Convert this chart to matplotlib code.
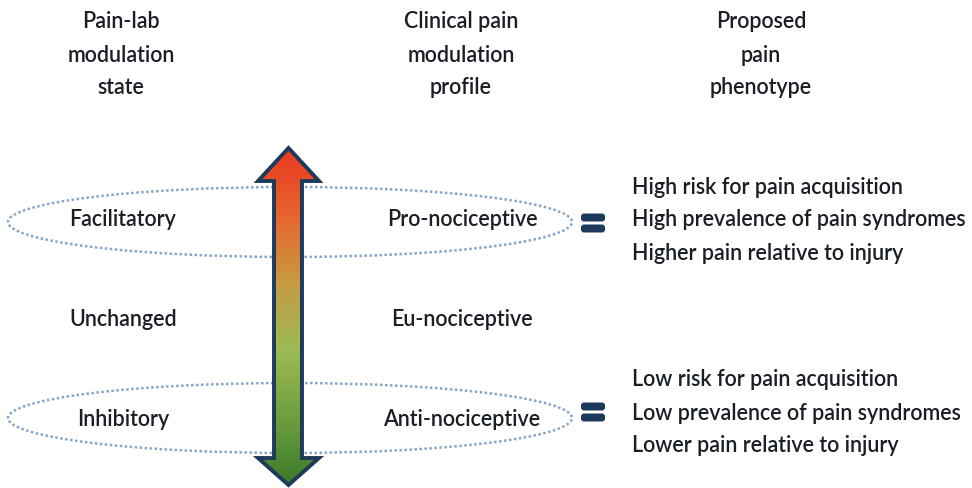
import numpy as np
import matplotlib
matplotlib.use("Agg")
import matplotlib.pyplot as plt
from matplotlib.patches import Ellipse, Polygon, FancyBboxPatch
from matplotlib.colors import LinearSegmentedColormap

plt.rcParams['font.family'] = ['Lato', 'DejaVu Sans']

# -----------------------------
# text content
# -----------------------------
headers = [["Pain-lab", "modulation", "state"],
           ["Clinical pain", "modulation", "profile"],
           ["Proposed", "pain", "phenotype"]]
lab_states = ["Facilitatory", "Unchanged", "Inhibitory"]
clinical_profiles = ["Pro-nociceptive", "Eu-nociceptive", "Anti-nociceptive"]
phenotype_high = ["High risk for pain acquisition",
                  "High prevalence of pain syndromes",
                  "Higher pain relative to injury"]
phenotype_low = ["Low risk for pain acquisition",
                 "Low prevalence of pain syndromes",
                 "Lower pain relative to injury"]

# layout (pixel coordinates, y downward)
W, H = 972, 488
header_x = [121, 461, 761]
header_y = [22, 55, 87]
row_y = [220, 320, 420]
col_left, col_mid = 123, 462
txt_color = '#1a1f26'
navy = '#1e3a5a'
fs = 15.5
fw = 'semibold'

fig = plt.figure(figsize=(W / 100, H / 100), dpi=100)
ax = fig.add_axes([0, 0, 1, 1])
ax.set_xlim(0, W)
ax.set_ylim(H, 0)
ax.axis('off')

# headers
for x, lines in zip(header_x, headers):
    for y, s in zip(header_y, lines):
        ax.text(x, y, s, ha='center', va='center', fontsize=fs,
                fontweight=fw, color=txt_color)

# dotted ellipses around top and bottom rows
for yc in (row_y[0] + 2, row_y[2] - 2):
    ax.add_patch(Ellipse((290, yc), 564, 70, fill=False, ec='#86a6c8',
                         lw=1.8, ls=(0, (1, 1)), zorder=1))

# double-headed arrow with red -> green gradient
sx0, sx1 = 274, 302
hx0, hx1 = 258, 319
top, top_base = 148, 181
bot, bot_base = 485, 458
pts = [(288.5, top), (hx1, top_base), (sx1, top_base), (sx1, bot_base),
       (hx1, bot_base), (288.5, bot), (hx0, bot_base), (sx0, bot_base),
       (sx0, top_base), (hx0, top_base)]
arrow = Polygon(pts, closed=True, fc='none', ec=navy, lw=2.8, zorder=4,
                joinstyle='miter')
ax.add_patch(arrow)
cmap = LinearSegmentedColormap.from_list(
    'painmod', ['#ea3a22', '#e8642e', '#c79a45', '#9cba55', '#6f9f3d', '#3b7a2a'])
grad = np.linspace(0, 1, 256).reshape(-1, 1)
im = ax.imshow(grad, cmap=cmap, extent=[hx0, hx1, bot, top], aspect='auto',
               zorder=3)
clip = Polygon(pts, closed=True, transform=ax.transData, fc='none', ec='none')
ax.add_patch(clip)
im.set_clip_path(clip)
ax.set_xlim(0, W)
ax.set_ylim(H, 0)

# row labels
for y, s, c in zip(row_y, lab_states, clinical_profiles):
    ax.text(col_left, y, s, ha='center', va='center', fontsize=fs,
            fontweight=fw, color=txt_color, zorder=5)
    ax.text(col_mid, y, c, ha='center', va='center', fontsize=fs,
            fontweight=fw, color=txt_color, zorder=5)

# equals signs
for yc in (row_y[0] + 3, row_y[2] - 8):
    for dy in (-5.5, 5.5):
        ax.add_patch(FancyBboxPatch((581, yc + dy - 4), 24, 8,
                                    boxstyle='round,pad=0,rounding_size=3',
                                    fc=navy, ec='none'))

# phenotype lists
for lines, y0 in ((phenotype_high, 187), (phenotype_low, 380)):
    for i, s in enumerate(lines):
        ax.text(632, y0 + i * 33, s, ha='left', va='center', fontsize=fs,
                fontweight=fw, color=txt_color)

fig.savefig('out.png', dpi=100)
